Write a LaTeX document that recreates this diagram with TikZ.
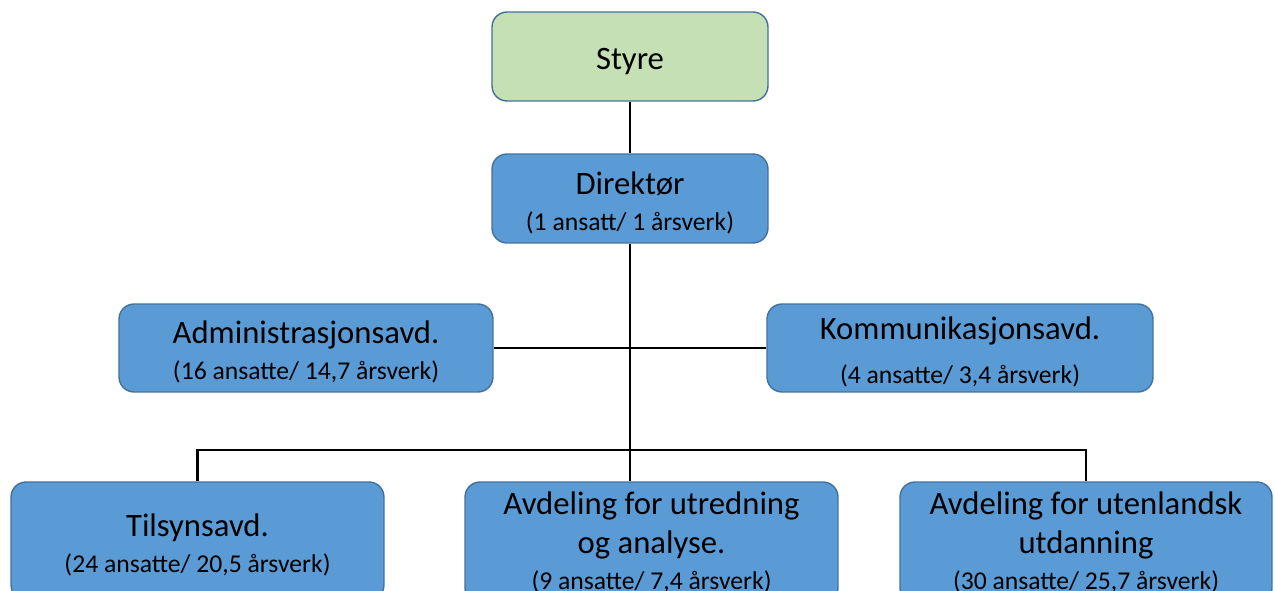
\documentclass[tikz,border=0pt]{standalone}
\usepackage{fontspec}
\setmainfont{Carlito}
\usepackage{xcolor}
\definecolor{unitblue}{HTML}{5B9BD5}
\definecolor{unitedge}{HTML}{41719C}
\definecolor{boardgreen}{HTML}{C5E0B4}
\tikzset{
  x=0.02cm, y=-0.02cm,
  unit/.style={draw=unitedge, line width=0.8pt, fill=unitblue, rounded corners=0.3cm,
    align=center, inner sep=0pt, text=black,
    font=\fontsize{14.6}{20.5}\selectfont},
  board/.style={unit, fill=boardgreen},
  link/.style={line width=1.4pt, black},
}
\newcommand{\unittitle}[1]{{\fontsize{18.6}{22}\selectfont #1}}
\newcommand{\unittop}{\rule{0pt}{17.5pt}}

\begin{document}
\begin{tikzpicture}
    \useasboundingbox (0,0) rectangle (1275,591);
    % top
    \node[board, minimum width=5.52cm, minimum height=1.78cm] (styre) at (630,56.5) {\unittop\unittitle{Styre}};
    \node[unit, minimum width=5.52cm, minimum height=1.78cm] (dir) at (630,198.5)
      {\unittop\unittitle{Direktør}\\(1 ansatt/ 1 årsverk)};
    % staff
    \node[unit, minimum width=7.48cm, minimum height=1.76cm] (admin) at (306,348)
      {\unittop\unittitle{Administrasjonsavd.}\\(16 ansatte/ 14,7 årsverk)};
    \node[unit, minimum width=7.72cm, minimum height=1.76cm] (komm) at (960,348)
      {\unittop\unittitle{Kommunikasjonsavd.}\\[4.5pt](4 ansatte/ 3,4 årsverk)};
    % departments
    \node[unit, minimum width=7.46cm, minimum height=2.36cm] (tilsyn) at (197.5,541)
      {\unittop\unittitle{Tilsynsavd.}\\(24 ansatte/ 20,5 årsverk)};
    \node[unit, minimum width=7.46cm, minimum height=2.42cm] (utred) at (651.5,542.5)
      {\unittitle{Avdeling for utredning}\\[1.5pt]\unittitle{og analyse.}\\(9 ansatte/ 7,4 årsverk)};
    \node[unit, minimum width=7.44cm, minimum height=2.42cm] (utenl) at (1086,542.5)
      {\unittitle{Avdeling for utenlandsk}\\[1.5pt]\unittitle{utdanning}\\(30 ansatte/ 25,7 årsverk)};
    \coordinate (bus) at (630,450);
    % lines
    \draw[link] (styre) -- (dir);
    \draw[link] (dir) -- (bus);
    \draw[link] (admin) -- (komm);
    \draw[link] (tilsyn.north) |- (bus) -| (utenl.north);
    \draw[link] (bus) -- (bus |- utred.north);
\end{tikzpicture}
\end{document}
